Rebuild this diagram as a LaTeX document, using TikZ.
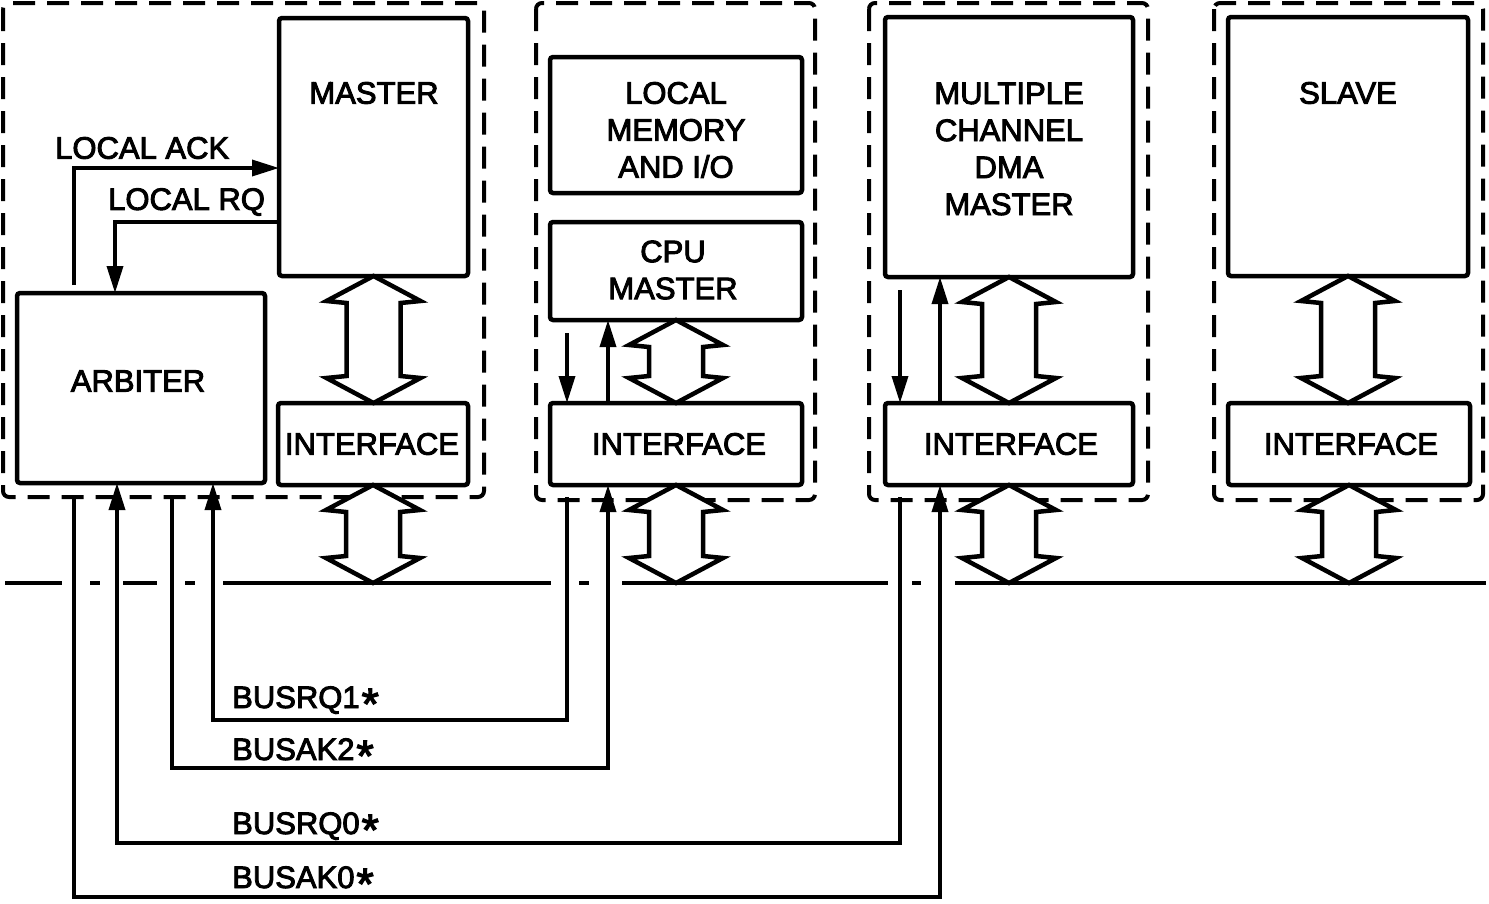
\documentclass[tikz,border=0pt]{standalone}
\usepackage{fontspec}
\setmainfont{Liberation Sans}
\font\thickfont="Liberation Sans:embolden=3" at 31pt
\font\starfont="Liberation Sans:embolden=3" at 44pt
\usetikzlibrary{arrows.meta,calc}
\newcommand\fatarr[2]{\draw[fat] let \p1=#1, \p2=#2 in
  (\x1,\y1) -- (\x1-47pt,\y1-25pt) -- (\x1-27pt,\y1-27pt) -- (\x1-27pt,\y2+27pt)
  -- (\x1-47pt,\y2+25pt) -- (\x1,\y2) -- (\x1+47pt,\y2+25pt) -- (\x1+27pt,\y2+27pt)
  -- (\x1+27pt,\y1-27pt) -- (\x1+47pt,\y1-25pt) -- cycle;}
\newcommand\sigstar{\kern2pt\raisebox{-11pt}[0pt][0pt]{\starfont *}}
\begin{document}
\begin{tikzpicture}[x=1pt,y=-1pt,
  blk/.style={draw, line width=4.5pt, rounded corners=3pt, inner sep=0pt, outer sep=0pt, fill=white},
  grp/.style={draw, line width=4pt, dash pattern=on 22pt off 12pt, rounded corners=6pt},
  lbl/.style={font=\fontsize{31}{37}\selectfont\thickfont, align=center, inner sep=0pt},
  sig/.style={line width=3.5pt},
  sigarr/.style={sig, -{Triangle[length=27pt,width=16pt]}},
  fat/.style={line width=4.5pt, line join=miter, fill=white},
  busln/.style={line width=4pt}
]
\useasboundingbox (0,0) rectangle (1489,903);

% dashed module outlines
\draw[grp] (3,3) rectangle (484,497);
\draw[grp] (536,3) rectangle (815,500);
\draw[grp] (869,3) rectangle (1148,500);
\draw[grp] (1214,3) rectangle (1483,500);

% blocks
\node[blk, minimum width=189pt, minimum height=258pt] (master) at (373.5,147) {};
\node[lbl] (masterT) at (374,93) {MASTER};
\node[blk, minimum width=248pt, minimum height=190pt] (arb) at (141,388) {};
\node[lbl] (arbT) at (138,381) {ARBITER};
\node[blk, minimum width=190pt, minimum height=82pt] (if1) at (373,444) {};
\node[lbl] (if1T) at (372,444) {INTERFACE};

\node[blk, minimum width=252pt, minimum height=136pt] (mem) at (676,125) {};
\node[lbl] (memT) at (676,130) {LOCAL\\MEMORY\\AND I/O};
\node[blk, minimum width=252pt, minimum height=98pt] (cpu) at (676,271) {};
\node[lbl] (cpuT) at (673,270) {CPU\\MASTER};
\node[blk, minimum width=252pt, minimum height=82pt] (if2) at (676,444) {};
\node[lbl] (if2T) at (679,444) {INTERFACE};

\node[blk, minimum width=248pt, minimum height=260pt] (dma) at (1009,147) {};
\node[lbl] (dmaT) at (1009,149) {MULTIPLE\\CHANNEL\\DMA\\MASTER};
\node[blk, minimum width=248pt, minimum height=82pt] (if3) at (1009,444) {};
\node[lbl] (if3T) at (1011,444) {INTERFACE};

\node[blk, minimum width=240pt, minimum height=259pt] (slave) at (1348,146.5) {};
\node[lbl] (slaveT) at (1348,93) {SLAVE};
\node[blk, minimum width=242pt, minimum height=82pt] (if4) at (1349,444) {};
\node[lbl] (if4T) at (1351,444) {INTERFACE};

% bus
\coordinate (busY) at (0,583);
\foreach \a/\b in {5/62, 90/100, 123/157, 185/195, 223/551, 579/589, 622/888, 912/921, 955/1486}
  \draw[busln] (\a,583) -- (\b,583);

% fat double arrows
\fatarr{(master.south)}{(if1.north)}
\fatarr{(if1.south)}{(if1.south |- busY)}
\fatarr{(cpu.south)}{(if2.north)}
\fatarr{(if2.south)}{(if2.south |- busY)}
\fatarr{(dma.south)}{(if3.north)}
\fatarr{(if3.south)}{(if3.south |- busY)}
\fatarr{(slave.south)}{(if4.north)}
\fatarr{(if4.south)}{(if4.south |- busY)}

% local signals
\coordinate (ackS) at (74,285);
\coordinate (ackY) at (0,168);
\draw[sigarr] (ackS) |- (ackY -| master.west);
\node[lbl, anchor=west] (lack) at (55,148) {LOCAL ACK};
\coordinate (rqbend) at (115,222);
\draw[sigarr] (master.west |- rqbend) -- (rqbend) -- (rqbend |- arb.north);
\node[lbl, anchor=west] (lrq) at (108,202) {LOCAL RQ};

% module 2 signals
\coordinate (c2a) at (567,333);
\draw[sigarr] (c2a) -- (c2a |- if2.north);
\coordinate (x608) at (608,0);
\draw[sigarr] (if2.north -| x608) -- (cpu.south -| x608);

% module 3 signals
\coordinate (c3a) at (900,290);
\draw[sigarr] (c3a) -- (c3a |- if3.north);
\coordinate (x940) at (940,0);
\draw[sigarr] (if3.north -| x940) -- (dma.south -| x940);

% bus request / acknowledge lines
\coordinate (rq1s) at (567,497);
\coordinate (rq1b) at (213,720);
\draw[sigarr] (rq1s) |- (rq1b) -- (rq1b |- arb.south);
\node[lbl, anchor=base west] (rq1T) at (232,708) {BUSRQ1\sigstar};

\coordinate (ak2s) at (172,495);
\coordinate (ak2b) at (608,768);
\draw[sigarr] (ak2s) |- (ak2b) -- (ak2b |- if2.south);
\node[lbl, anchor=base west] (ak2T) at (232,760) {BUSAK2\sigstar};

\coordinate (rq0s) at (900,497);
\coordinate (rq0b) at (117,843);
\draw[sigarr] (rq0s) |- (rq0b) -- (rq0b |- arb.south);
\node[lbl, anchor=base west] (rq0T) at (232,834) {BUSRQ0\sigstar};

\coordinate (ak0s) at (74,498);
\coordinate (ak0b) at (940,897);
\draw[sigarr] (ak0s) |- (ak0b) -- (ak0b |- if3.south);
\node[lbl, anchor=base west] (ak0T) at (232,888) {BUSAK0\sigstar};
\end{tikzpicture}
\end{document}
